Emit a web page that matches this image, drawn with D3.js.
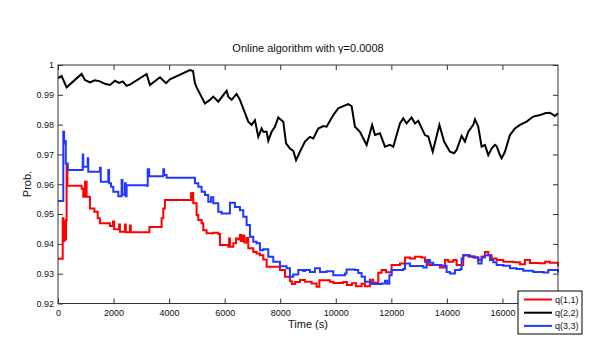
<!DOCTYPE html>
<html>
<head>
<meta charset="utf-8">
<script src="https://cdn.jsdelivr.net/npm/d3@7"></script>
<style>
  body { margin: 0; background: #fff; }
  svg text { font-family: "Liberation Sans", Arial, sans-serif; fill: #111; }
</style>
</head>
<body>
<svg id="chart"></svg>
<script>
// time axis (s) and probabilities
const timeQ11 = [0,170,200,230,260,290,310,340,850,910,970,1030,1150,1310,1430,1510,1870,1980,2020,2200,2230,2410,2440,2590,2620,3290,3730,3790,3850,4790,4810,4850,4870,4990,5050,5170,5230,5350,5590,5770,5830,6130,6160,6190,6310,6410,6490,6550,6590,6660,6710,6790,6850,7030,7150,7270,7390,7510,7990,8170,8350,8420,8530,8710,8890,9130,9310,9410,9790,9910,10260,10400,10580,10730,10930,11050,11230,11350,11530,11650,11810,12010,12310,12490,12670,12850,13090,13210,13330,13750,13930,14050,14230,14350,14590,14770,14950,15130,15250,15370,15490,15610,15790,16030,16390,16630,16810,16990,17350,17530,17710,18000];
const q11 = [0.935,0.9486,0.941,0.9475,0.9415,0.948,0.9664,0.9595,0.9586,0.9558,0.9608,0.9558,0.9519,0.9508,0.9486,0.9469,0.946,0.9475,0.9449,0.9465,0.9441,0.9465,0.9439,0.9462,0.9439,0.9457,0.9486,0.9519,0.9547,0.957,0.9547,0.9571,0.9536,0.9497,0.948,0.9469,0.9446,0.9436,0.9437,0.9433,0.9396,0.939,0.9418,0.939,0.9402,0.9418,0.9415,0.943,0.941,0.9428,0.9405,0.942,0.9385,0.9373,0.9368,0.9362,0.9348,0.9323,0.9312,0.929,0.9275,0.9265,0.9272,0.9279,0.9273,0.9267,0.9256,0.9278,0.9273,0.9269,0.9272,0.9262,0.9268,0.9258,0.9266,0.9258,0.928,0.927,0.9303,0.9312,0.9305,0.9329,0.9334,0.9354,0.9351,0.9357,0.9354,0.934,0.9329,0.9321,0.9346,0.934,0.9346,0.9329,0.9362,0.9358,0.9354,0.9346,0.9358,0.9373,0.9362,0.9351,0.9346,0.934,0.9338,0.9332,0.9346,0.9336,0.9335,0.934,0.9337,0.9325];

const timeQ22 = [0,130,310,850,970,1150,1330,1510,1690,1870,2050,2200,2330,2470,2620,3190,3310,3670,3890,4030,4750,4860,4930,4990,5290,5470,5590,5770,5950,6070,6130,6250,6430,6550,6850,6970,7090,7210,7330,7390,7510,7570,7690,7810,7930,8110,8210,8350,8470,8570,8710,8890,9070,9190,9370,9550,9670,9910,10090,10270,10450,10570,10690,10870,11110,11310,11410,11590,11770,11950,12070,12310,12430,12550,12730,12850,12970,13210,13330,13490,13730,13900,14110,14260,14350,14530,14650,14770,14950,15010,15130,15250,15370,15490,15610,15730,15790,15910,15970,16090,16270,16450,16630,16870,17110,17350,17530,17710,17890,18000];
const q22 = [0.9956,0.9963,0.9925,0.997,0.995,0.9942,0.9949,0.9945,0.9937,0.9933,0.9947,0.994,0.9945,0.993,0.9936,0.997,0.9933,0.9959,0.9939,0.9952,0.9983,0.998,0.9939,0.9925,0.9871,0.9883,0.9894,0.9877,0.9899,0.9914,0.9894,0.9883,0.9903,0.9883,0.981,0.9799,0.9815,0.9759,0.9787,0.9776,0.9776,0.9746,0.9776,0.9793,0.9824,0.981,0.9737,0.972,0.9712,0.9681,0.9709,0.9743,0.9759,0.9754,0.9787,0.9795,0.9793,0.9832,0.9855,0.9862,0.9869,0.9862,0.9793,0.9776,0.9732,0.9799,0.9765,0.9771,0.9726,0.9732,0.9726,0.9804,0.9821,0.9804,0.9824,0.9804,0.9813,0.9765,0.976,0.9709,0.9799,0.9743,0.9709,0.9704,0.9715,0.9762,0.9743,0.9776,0.9799,0.9818,0.9793,0.9726,0.9732,0.9698,0.972,0.9732,0.9728,0.9698,0.9687,0.9709,0.9765,0.9787,0.9799,0.981,0.9827,0.9832,0.9838,0.984,0.9829,0.9838];

const timeQ33 = [0,160,190,220,240,280,350,890,910,1070,1090,1510,1540,1810,1840,1910,1990,2170,2290,2320,2410,2440,2470,3190,3230,3280,3790,3820,3910,4930,5050,5170,5290,5410,5510,5590,5770,5890,6190,6370,6550,6670,6790,6910,7030,7150,7270,7390,7570,7750,7990,8230,8350,8470,8650,8830,8890,9070,9250,9430,9670,9910,10330,10390,10690,10810,10930,11050,11290,11650,11770,11850,11930,12010,12430,12490,12670,13150,13270,13390,13510,13810,13990,14110,14290,14470,14530,14590,14830,15010,15130,15250,15370,15550,15670,15790,16030,16270,16510,16750,17110,17470,17650,17830,18000];
const q33 = [0.9544,0.9544,0.9776,0.9737,0.9745,0.967,0.9648,0.97,0.9659,0.9687,0.9642,0.9655,0.9608,0.9648,0.9603,0.9592,0.9575,0.956,0.9614,0.9565,0.9603,0.956,0.9597,0.9595,0.965,0.9627,0.965,0.9631,0.9622,0.9603,0.9592,0.9575,0.9564,0.9541,0.9556,0.9536,0.9508,0.9502,0.9538,0.9524,0.9513,0.9491,0.9463,0.9424,0.9407,0.9402,0.9379,0.9382,0.9357,0.934,0.9325,0.9318,0.929,0.9297,0.9312,0.9309,0.9312,0.9306,0.9318,0.9306,0.9308,0.9295,0.9301,0.9314,0.9312,0.9302,0.929,0.9273,0.9265,0.9267,0.9276,0.9266,0.9295,0.9312,0.9316,0.9334,0.9326,0.9321,0.9346,0.9337,0.9329,0.9327,0.9306,0.9301,0.9312,0.9315,0.9351,0.9362,0.9358,0.9354,0.9334,0.9354,0.9362,0.9346,0.9338,0.9329,0.9327,0.9318,0.9316,0.931,0.9306,0.9304,0.9312,0.9312,0.9303];

const xTicks = [0,2000,4000,6000,8000,10000,12000,14000,16000];
const yTicks = [0.92,0.93,0.94,0.95,0.96,0.97,0.98,0.99,1];
const seriesNames = ["q(1,1)","q(2,2)","q(3,3)"];
const seriesColors = ["#ff0000","#000000","#2038ff"];

const W = 599, H = 360;
const margin = {top: 65, right: 41, bottom: 56.5, left: 58};
const width = W - margin.left - margin.right;
const height = H - margin.top - margin.bottom;

const svg = d3.select("#chart").attr("width", W).attr("height", H);
const g = svg.append("g").attr("transform", `translate(${margin.left},${margin.top})`);

const x = d3.scaleLinear().domain([0, 18000]).range([0, width]);
const y = d3.scaleLinear().domain([0.92, 1]).range([height, 0]);

// axes, matlab style: ticks inside on all four sides
const tl = 5;
g.append("g").attr("transform", `translate(0,${height})`)
  .call(d3.axisBottom(x).tickValues(xTicks).tickSizeInner(-tl).tickSizeOuter(0).tickPadding(6).tickFormat(d3.format("d")))
  .call(a => a.select(".domain").remove());
g.append("g")
  .call(d3.axisTop(x).tickValues(xTicks).tickSizeInner(-tl).tickSizeOuter(0).tickFormat(""))
  .call(a => a.select(".domain").remove());
g.append("g")
  .call(d3.axisLeft(y).tickValues(yTicks).tickSizeInner(-tl).tickSizeOuter(0).tickPadding(4).tickFormat(d => d === 1 ? "1" : d3.format(".2f")(d)))
  .call(a => a.select(".domain").remove());
g.append("g").attr("transform", `translate(${width},0)`)
  .call(d3.axisRight(y).tickValues(yTicks).tickSizeInner(-tl).tickSizeOuter(0).tickFormat(""))
  .call(a => a.select(".domain").remove());
g.selectAll(".tick line").attr("stroke", "#333");
g.selectAll(".tick text").attr("font-size", 9).attr("fill", "#222");

const lineOf = (ts, vs, curve) => d3.line()
  .x((d, i) => x(ts[i])).y(d => y(d)).curve(curve)(vs);

g.append("path").attr("d", lineOf(timeQ11, q11, d3.curveStepAfter))
  .attr("fill", "none").attr("stroke", seriesColors[0]).attr("stroke-width", 2);
g.append("path").attr("d", lineOf(timeQ22, q22, d3.curveLinear))
  .attr("fill", "none").attr("stroke", seriesColors[1]).attr("stroke-width", 2);
g.append("path").attr("d", lineOf(timeQ33, q33, d3.curveStepAfter))
  .attr("fill", "none").attr("stroke", seriesColors[2]).attr("stroke-width", 2);

g.append("rect").attr("width", width).attr("height", height)
  .attr("fill", "none").attr("stroke", "#333").attr("stroke-width", 1);

// labels
svg.append("text").attr("x", 308).attr("y", 52).attr("text-anchor", "middle")
  .attr("font-size", 11).text("Online algorithm with γ=0.0008");
svg.append("text").attr("x", 308).attr("y", 328).attr("text-anchor", "middle")
  .attr("font-size", 11).text("Time (s)");
svg.append("text").attr("transform", "translate(31,184) rotate(-90)").attr("text-anchor", "middle")
  .attr("font-size", 11).text("Prob.");

// legend
const lg = svg.append("g").attr("transform", "translate(518,291)");
lg.append("rect").attr("width", 64).attr("height", 43)
  .attr("fill", "#fff").attr("stroke", "#000").attr("stroke-width", 1);
seriesNames.forEach((name, i) => {
  const yy = 8.5 + i * 13.2;
  lg.append("line").attr("x1", 6).attr("x2", 34).attr("y1", yy).attr("y2", yy)
    .attr("stroke", seriesColors[i]).attr("stroke-width", 2);
  lg.append("text").attr("x", 37).attr("y", yy + 3.3).attr("font-size", 9).text(name);
});
</script>
</body>
</html>
